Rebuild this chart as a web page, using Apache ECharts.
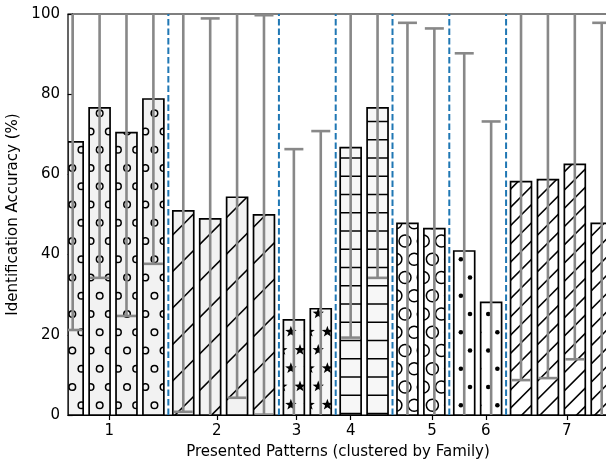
<!DOCTYPE html>
<html><head><meta charset="utf-8">
<script src="https://cdn.jsdelivr.net/npm/echarts@6/dist/echarts.min.js"></script>
<style>html,body{margin:0;padding:0;background:#fff}#c{width:606px;height:464px}</style>
</head><body><div id="c"></div>
<script>
// ---- data ----
const families = ['1', '2', '3', '4', '5', '6', '7'];
const clusterSizes = [4, 4, 2, 2, 2, 2, 4];
const hatches = ['o', '/', '*', '-', 'O', '.', '//'];
const familyFills = ['#f2f2f2', '#f2f2f2', '#f7f7f7', '#f7f7f7', '#ffffff', '#ffffff', '#ffffff'];
const meanValues = [68.1, 76.6, 70.4, 78.8, 50.9, 48.9, 54.3, 49.9, 23.7, 26.5, 66.7, 76.6, 47.8, 46.5, 40.9, 28.1, 58.2, 58.7, 62.5, 47.8];
const errValues  = [46.9, 42.4, 45.7, 41.1, 50.1, 50.0, 50.0, 49.8, 42.6, 44.3, 47.4, 42.4, 50.0, 49.9, 49.3, 45.1, 49.5, 49.5, 48.6, 50.0];
const tickPositions = [1.225, 4.82, 7.49, 9.30, 12.02, 13.82, 16.53];
const yTicks = [0, 20, 40, 60, 80, 100];

// ---- layout constants ----
const BAR_STEP = 0.9, CLUSTER_STEP = 1.0, BAR_W = 0.7;
const GRID_LEFT = 68, GRID_RIGHT = -2;
const X_MIN = -0.157, X_MAX = 17.91;

// positions of bars built from cluster structure
const barX = [], barFam = [];
let pos = 0;
clusterSizes.forEach((n, ci) => {
  for (let k = 0; k < n; k++) {
    barX.push(pos); barFam.push(ci);
    pos += (k < n - 1) ? BAR_STEP : CLUSTER_STEP;
  }
});
const dividers = [];
{
  let idx = 0;
  for (let ci = 0; ci < clusterSizes.length - 1; ci++) {
    idx += clusterSizes[ci];
    dividers.push((barX[idx - 1] + barX[idx]) / 2);
  }
}

// ---- hatch tiles ----
const T = 73, S = T / 4;
function mod(a, m) { return ((a % m) + m) % m; }
function lattice(ctx, ax, ay, fn) {
  ax = mod(ax, S); ay = mod(ay, 2 * S);
  for (let r = -2; r <= 6; r++) {
    const y = ay + r * S;
    const off = (mod(r, 2) === 1) ? S / 2 : 0;
    for (let c = -2; c <= 6; c++) fn(ax + off + c * S, y);
  }
}
function diag(ctx, c, d) {
  c = mod(c, d);
  for (let t = c - d; t <= 2 * T + d; t += d) {
    ctx.beginPath();
    ctx.moveTo(t - T - 10, T + 10);
    ctx.lineTo(t + 10, -10);
    ctx.stroke();
  }
}
function star(ctx, x, y, R, r) {
  ctx.beginPath();
  for (let i = 0; i < 10; i++) {
    const a = -Math.PI / 2 + i * Math.PI / 5;
    const rr = (i % 2 === 0) ? R : r;
    const px = x + rr * Math.cos(a), py = y + rr * Math.sin(a);
    if (i === 0) ctx.moveTo(px, py); else ctx.lineTo(px, py);
  }
  ctx.closePath(); ctx.fill();
}
function makeTile(h, bg) {
  const cv = document.createElement('canvas');
  cv.width = T; cv.height = T;
  const ctx = cv.getContext('2d');
  ctx.fillStyle = bg; ctx.fillRect(0, 0, T, T);
  ctx.strokeStyle = '#000'; ctx.fillStyle = '#000'; ctx.lineWidth = 1.5;
  if (h === 'o') {
    lattice(ctx, 72.3, 314, (x, y) => { ctx.beginPath(); ctx.arc(x, y, 3.3, 0, 2 * Math.PI); ctx.stroke(); });
  } else if (h === 'O') {
    lattice(ctx, 405, 314, (x, y) => { ctx.beginPath(); ctx.arc(x, y, 6, 0, 2 * Math.PI); ctx.stroke(); });
  } else if (h === '.') {
    lattice(ctx, 470, 314, (x, y) => { ctx.beginPath(); ctx.arc(x, y, 2.3, 0, 2 * Math.PI); ctx.fill(); });
  } else if (h === '*') {
    lattice(ctx, 300, 350, (x, y) => star(ctx, x, y, 6, 2.4));
  } else if (h === '-') {
    const c = mod(304, S);
    for (let y = c - S; y <= T + S; y += S) { ctx.beginPath(); ctx.moveTo(-2, y); ctx.lineTo(T + 2, y); ctx.stroke(); }
  } else if (h === '/') {
    diag(ctx, 407.6, 2 * S);
  } else if (h === '//') {
    diag(ctx, 407.6, S);
  }
  return cv;
}
const patterns = hatches.map((h, i) => ({ image: makeTile(h, familyFills[i]), repeat: 'repeat' }));

const barData = barX.map((x, i) => [x, meanValues[i], barFam[i]]);
const errData = barX.map((x, i) => [x, meanValues[i] - errValues[i], meanValues[i] + errValues[i]]);
const divData = dividers.map(x => [x]);

const chart = echarts.init(document.getElementById('c'), null, { renderer: 'canvas' });
const FONT = 'DejaVu Sans';
chart.setOption({
  animation: false,
  backgroundColor: '#fff',
  grid: { left: GRID_LEFT, right: GRID_RIGHT, top: 14, bottom: 49, containLabel: false, outerBoundsMode: 'none',
    show: true, borderColor: '#000', borderWidth: 1.2, backgroundColor: 'transparent' },
  xAxis: {
    type: 'value', min: X_MIN, max: X_MAX,
    name: 'Presented Patterns (clustered by Family)', nameLocation: 'middle', nameGap: 30,
    nameTextStyle: { fontFamily: FONT, fontSize: 15, color: '#000' },
    axisLine: { show: true, lineStyle: { color: '#000', width: 1.2 } },
    axisTick: { show: true, length: 5, lineStyle: { color: '#000', width: 1.2 }, customValues: tickPositions },
    axisLabel: {
      show: true, margin: 9, fontFamily: FONT, fontSize: 15, color: '#000', customValues: tickPositions,
      formatter: (v) => {
        let best = 0;
        tickPositions.forEach((t, i) => { if (Math.abs(t - v) < Math.abs(tickPositions[best] - v)) best = i; });
        return families[best];
      }
    },
    splitLine: { show: false }
  },
  yAxis: {
    type: 'value', min: yTicks[0], max: yTicks[yTicks.length - 1], interval: yTicks[1] - yTicks[0],
    name: 'Identification Accuracy (%)', nameLocation: 'middle', nameGap: 42, nameRotate: 90,
    nameTextStyle: { fontFamily: FONT, fontSize: 15, color: '#000' },
    axisLine: { show: true, lineStyle: { color: '#000', width: 1.2 } },
    axisTick: { show: true, length: 5, lineStyle: { color: '#000', width: 1.2 } },
    axisLabel: { margin: 8, fontFamily: FONT, fontSize: 15, color: '#000' },
    splitLine: { show: false }
  },
  series: [
    {
      type: 'custom', data: barData, clip: true, z: 2,
      encode: { x: 0, y: 1 },
      renderItem: (params, api) => {
        const x = api.value(0), y = api.value(1), f = api.value(2);
        const p0 = api.coord([x - BAR_W / 2, y]);
        const p1 = api.coord([x + BAR_W / 2, 0]);
        const cs = params.coordSys;
        const rect = echarts.graphic.clipRectByRect(
          { x: p0[0], y: p0[1], width: p1[0] - p0[0], height: p1[1] - p0[1] },
          { x: cs.x, y: cs.y, width: cs.width, height: cs.height });
        if (!rect) return;
        return { type: 'rect', shape: rect, style: { fill: patterns[f], stroke: '#000', lineWidth: 1.7 } };
      }
    },
    {
      type: 'custom', data: errData, clip: true, z: 3,
      encode: { x: 0, y: [1, 2] },
      renderItem: (params, api) => {
        const x = api.value(0), lo = api.value(1), hi = api.value(2);
        const y0 = Math.max(lo, 0), y1 = Math.min(hi, 100);
        const a = api.coord([x, y0]), b = api.coord([x, y1]);
        const style = { stroke: '#888888', lineWidth: 2.6 };
        const children = [{ type: 'line', shape: { x1: a[0], y1: a[1], x2: b[0], y2: b[1] }, style }];
        const cap = 9.5;
        if (lo >= 0) children.push({ type: 'line', shape: { x1: a[0] - cap, y1: a[1], x2: a[0] + cap, y2: a[1] }, style });
        if (hi <= 100) children.push({ type: 'line', shape: { x1: b[0] - cap, y1: b[1], x2: b[0] + cap, y2: b[1] }, style });
        return { type: 'group', children };
      }
    },
    {
      type: 'custom', data: divData, clip: true, z: 4,
      encode: { x: 0 },
      renderItem: (params, api) => {
        const x = api.value(0);
        const a = api.coord([x, yTicks[0]]), b = api.coord([x, yTicks[yTicks.length - 1]]);
        return { type: 'line', shape: { x1: a[0], y1: a[1], x2: b[0], y2: b[1] },
          style: { stroke: '#1f77b4', lineWidth: 2, lineDash: [6.5, 3] } };
      }
    }
  ]
});
</script></body></html>
